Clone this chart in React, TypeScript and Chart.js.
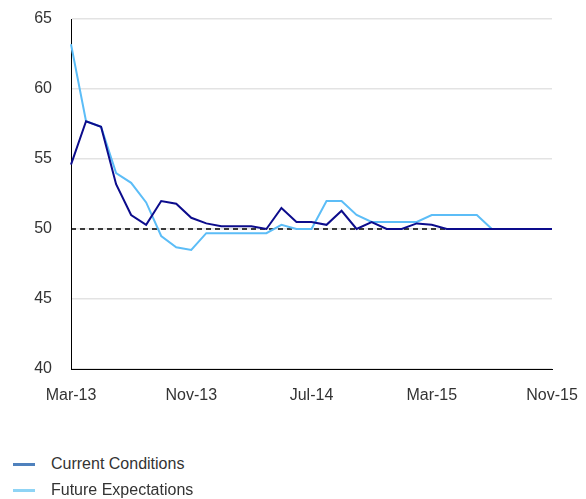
import React, { useEffect, useRef } from "react";
import { Chart, registerables } from "chart.js";

Chart.register(...registerables);

const months = ["Jan", "Feb", "Mar", "Apr", "May", "Jun", "Jul", "Aug", "Sep", "Oct", "Nov", "Dec"];
const categories: string[] = [];
for (let y = 13; y <= 15; y++) {
  for (let m = 0; m < 12; m++) {
    if (y === 13 && m < 2) continue;
    if (y === 15 && m > 10) continue;
    categories.push(`${months[m]}-${y}`);
  }
}

const currentConditions = [
  54.6, 57.7, 57.3, 53.2, 51.0, 50.3, 52.0, 51.8, 50.8, 50.4, 50.2,
  50.2, 50.2, 50.0, 51.5, 50.5, 50.5, 50.3, 51.3, 50.0, 50.5, 50.0,
  50.0, 50.4, 50.3, 50.0, 50.0, 50.0, 50.0, 50.0, 50.0, 50.0, 50.0,
];
const futureExpectations = [
  63.2, 57.7, 57.3, 54.0, 53.3, 51.9, 49.5, 48.7, 48.5, 49.7, 49.7,
  49.7, 49.7, 49.7, 50.3, 50.0, 50.0, 52.0, 52.0, 51.0, 50.5, 50.5,
  50.5, 50.5, 51.0, 51.0, 51.0, 51.0, 50.0, 50.0, 50.0, 50.0, 50.0,
];
const baseline = categories.map(() => 50);
const yTicks = [40, 45, 50, 55, 60, 65];
const xTickLabels = ["Mar-13", "Nov-13", "Jul-14", "Mar-15", "Nov-15"];

const legendItems = [
  { label: "Current Conditions", color: "#4f81bd" },
  { label: "Future Expectations", color: "#8fd4f5" },
];

const FONT = "'Liberation Sans', Arial, sans-serif";

export default function App() {
  const ref = useRef<HTMLCanvasElement>(null);
  useEffect(() => {
    if (!ref.current) return;
    const chart = new Chart(ref.current, {
      type: "line",
      data: {
        labels: categories,
        datasets: [
          {
            label: "Baseline",
            data: baseline,
            borderColor: "#000000",
            borderWidth: 1.3,
            borderDash: [5, 4],
            pointRadius: 0,
            fill: false,
            order: 3,
          },
          {
            label: "Current Conditions",
            data: currentConditions,
            borderColor: "#0c0c8c",
            borderWidth: 2,
            pointRadius: 0,
            tension: 0,
            fill: false,
            order: 1,
          },
          {
            label: "Future Expectations",
            data: futureExpectations,
            borderColor: "#5cbdf7",
            borderWidth: 2,
            pointRadius: 0,
            tension: 0,
            fill: false,
            order: 2,
          },
        ],
      },
      options: {
        animation: false,
        responsive: false,
        maintainAspectRatio: false,
        layout: { padding: { top: 19, right: 34, left: 0, bottom: 0 } },
        plugins: { legend: { display: false }, tooltip: { enabled: false } },
        scales: {
          x: {
            grid: { display: false, drawTicks: false },
            border: { display: true, color: "#000000", width: 1 },
            afterFit: (s: any) => {
              s.height = 51;
              s.paddingLeft = 0;
              s.paddingRight = 0;
            },
            ticks: {
              autoSkip: false,
              maxRotation: 0,
              padding: 17,
              color: "#333333",
              font: { family: FONT, size: 16 },
              callback: function (this: any, _v: any, i: number) {
                const lab = categories[i];
                return xTickLabels.includes(lab) ? lab : null;
              },
            },
          },
          y: {
            min: 40,
            max: 65,
            afterBuildTicks: (s: any) => {
              s.ticks = yTicks.map((v) => ({ value: v }));
            },
            afterFit: (s: any) => {
              s.width = 71;
              s.paddingTop = 0;
              s.paddingBottom = 0;
            },
            grid: { color: "#e3e3e3", lineWidth: 1.5, drawTicks: false },
            border: { display: true, color: "#000000", width: 1 },
            ticks: {
              padding: 19,
              color: "#333333",
              font: { family: FONT, size: 16 },
            },
          },
        },
      },
    });
    return () => chart.destroy();
  }, []);

  return (
    <div style={{ position: "fixed", left: 0, top: 0, width: 586, height: 499, background: "#fff" }}>
      <canvas ref={ref} width={586} height={420} style={{ display: "block", width: 586, height: 420 }} />
      {legendItems.map((it, i) => (
        <div
          key={it.label}
          style={{
            position: "absolute",
            left: 13,
            top: 453 + i * 26,
            height: 22,
            display: "flex",
            alignItems: "center",
            fontFamily: FONT,
            fontSize: 16,
            color: "#333333",
          }}
        >
          <span style={{ display: "inline-block", width: 22, height: 3, background: it.color, marginRight: 16 }} />
          <span>{it.label}</span>
        </div>
      ))}
    </div>
  );
}
